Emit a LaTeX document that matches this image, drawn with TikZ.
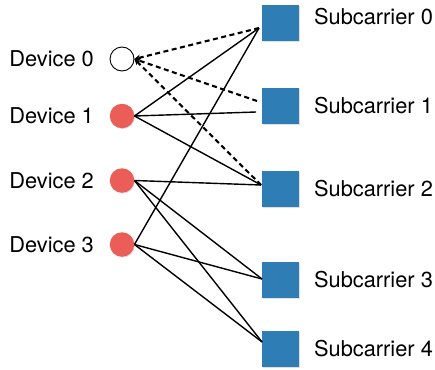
\documentclass[tikz,border=0pt]{standalone}
\usepackage{fontspec}
\setmainfont{TeX Gyre Heros}
\usetikzlibrary{positioning,arrows.meta,shadows}
\definecolor{devred}{RGB}{235,94,88}
\definecolor{subblue}{RGB}{46,125,180}

\begin{document}
\begin{tikzpicture}[x=1pt, y=1pt, auto,
  font=\fontsize{21.8}{26}\selectfont,
  device/.style={circle, on grid, minimum size=24.5pt, inner sep=0pt, fill=devred,
    drop shadow={shadow xshift=0.8pt, shadow yshift=-0.8pt, opacity=0.25}},
  idle/.style={circle, on grid, minimum size=24pt, inner sep=0pt, draw, line width=0.9pt, fill=white},
  carrier/.style={rectangle, on grid, minimum size=36.5pt, inner sep=0pt, fill=subblue,
    drop shadow={shadow xshift=0.8pt, shadow yshift=-0.8pt, opacity=0.25}},
  label/.style={inner sep=0pt},
  link/.style={line width=1.4pt},
  probe/.style={line width=2.1pt, dash pattern=on 5pt off 3.5pt, -{Stealth[length=6pt, width=6pt]}}]
\useasboundingbox (0,0) rectangle (435,-369);

% devices
\node (d0) [idle] at (122,-59) {};
\node (d1) [device, below=57pt of d0] {};
\node (d2) [device, below=64.5pt of d1] {};
\node (d3) [device, below=64pt of d2] {};

% subcarriers
\node (s0) [carrier] at (280.5,-23) {};
\node (s1) [carrier, below=83pt of s0] {};
\node (s2) [carrier, below=83pt of s1] {};
\node (s3) [carrier, below=91pt of s2] {};
\node (s4) [carrier, below=69pt of s3] {};

\node (l0) [label, left=15.5pt of d0] {Device 0};
\node (l1) [label, left=15.5pt of d1] {Device 1};
\node (l2) [label, left=15.5pt of d2] {Device 2};
\node (l3) [label, left=15.5pt of d3] {Device 3};

\node (m0) [label, right=15pt of s0, yshift=6pt] {Subcarrier 0};
\node (m1) [label, right=15pt of s1] {Subcarrier 1};
\node (m2) [label, right=15pt of s2] {Subcarrier 2};
\node (m3) [label, right=15pt of s3] {Subcarrier 3};
\node (m4) [label, right=15pt of s4] {Subcarrier 4};

% device 0 (dashed)
\draw[probe] ([xshift=-3pt,yshift=-5pt]s0.west) -- (d0.east);
\draw[probe] ([xshift=-5pt,yshift=5pt]s1.west) -- (d0.east);
\draw[probe] ([xshift=-1pt,yshift=4pt]s2.west) -- (d0.east);

% device 1
\draw[link] (d1.east) -- ([xshift=-3pt,yshift=-5pt]s0.west);
\draw[link] (d1.east) -- ([xshift=-6pt,yshift=-6pt]s1.west);
\draw[link] (d1.east) -- ([xshift=-1pt,yshift=4pt]s2.west);

% device 2
\draw[link] (d2.east) -- ([xshift=-1pt,yshift=4pt]s2.west);
\draw[link] (d2.east) -- ([yshift=1pt]s3.west);
\draw[link] (d2.east) -- ([yshift=7pt]s4.west);

% device 3
\draw[link] (d3.east) -- ([xshift=-3pt,yshift=-5pt]s0.west);
\draw[link] (d3.east) -- ([yshift=1pt]s3.west);
\draw[link] (d3.east) -- ([yshift=7pt]s4.west);
\end{tikzpicture}
\end{document}
